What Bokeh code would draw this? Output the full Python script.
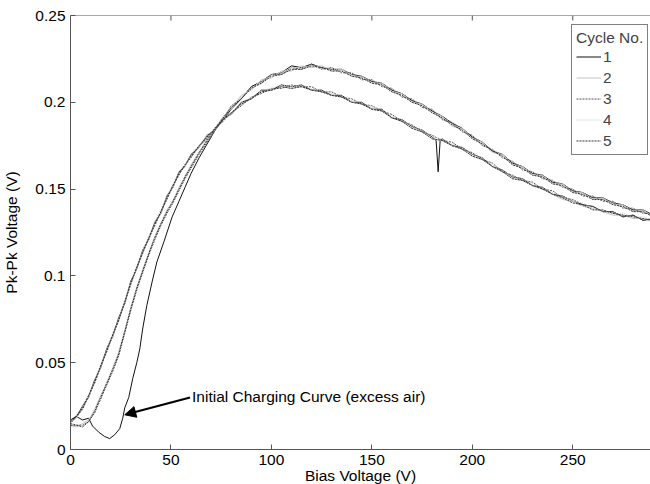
from bokeh.plotting import figure
from bokeh.models import Range1d, FixedTicker, Label, Arrow, NormalHead, Span, Title
from bokeh.embed import file_html
from bokeh.resources import INLINE

FONT = "Liberation Sans"

# ---------------- data ----------------
X_TICKS = [0, 50, 100, 150, 200, 250]
Y_TICKS = [0, 0.05, 0.1, 0.15, 0.2, 0.25]
Y_TICK_LABELS = ["0", "0.05", "0.1", "0.15", "0.2", "0.25"]
X_MAX = 288.7
Y_MAX = 0.25

GRID_UP = [0, 3, 6, 9, 12, 15, 18, 21, 24, 27, 30, 33, 36, 39, 42, 45, 48, 51, 54, 57,
           60, 64, 68, 72, 76, 80, 85, 90, 95, 100, 105, 110, 115, 120, 125, 130, 135,
           140, 145, 150, 155, 160, 165, 170, 175, 180, 185, 190, 195, 200, 205, 210,
           215, 220, 225, 230, 235, 240, 245, 250, 255, 260, 265, 270, 275, 280, 285, 290]
GRID_DOWN = GRID_UP[::-1]

C1_UP_X = [0, 3, 6, 9, 11, 14, 17, 19.5, 22, 24.5,
           26, 27, 29, 31, 33, 34.5, 36, 38, 40.7, 43,
           46.6, 50.6, 54, 57, 60, 64, 68, 72, 76, 80,
           85, 90, 95, 100, 105, 110, 115, 120, 125, 130,
           135, 140, 145, 150, 155, 160, 165, 170, 175, 180,
           185, 190, 195, 200, 205, 210, 215, 220, 225, 230,
           235, 240, 245, 250, 255, 260, 265, 270, 275, 280,
           285, 290]
C1_UP_Y = [0.017, 0.019, 0.017, 0.018, 0.0135, 0.010, 0.0075, 0.0063, 0.0085, 0.012,
           0.018, 0.024, 0.030, 0.041, 0.050, 0.058, 0.070, 0.083, 0.097, 0.108,
           0.120, 0.134, 0.143, 0.151, 0.159, 0.168, 0.176, 0.184, 0.190, 0.196,
           0.202, 0.209, 0.212, 0.216, 0.217, 0.221, 0.220, 0.222, 0.220, 0.219,
           0.219, 0.216, 0.215, 0.212, 0.211, 0.207, 0.205, 0.201, 0.199, 0.195,
           0.192, 0.188, 0.185, 0.180, 0.177, 0.172, 0.170, 0.165, 0.163, 0.159,
           0.158, 0.154, 0.153, 0.149, 0.148, 0.145, 0.145, 0.142, 0.141, 0.138,
           0.138, 0.135]
C1_DOWN_X = [290, 285, 280, 275, 270, 265, 260, 255, 250, 245,
             240, 235, 230, 225, 220, 215, 210, 205, 200, 195,
             190, 185,
             184, 183, 182,
             180, 175, 170, 165, 160, 155, 150, 145, 140, 135,
             130, 125, 120, 115, 110, 105, 100, 95, 90, 85,
             80,
             76, 72, 68, 64,
             60, 57, 54, 51, 48, 45, 42, 39, 36, 33,
             30, 27, 24, 21, 18, 15, 12, 9, 6, 3,
             0]
C1_DOWN_Y = [0.133, 0.132, 0.135, 0.134, 0.137, 0.137, 0.140, 0.141, 0.143, 0.146,
             0.147, 0.151, 0.152, 0.156, 0.157, 0.161, 0.163, 0.168, 0.170, 0.174,
             0.175, 0.179,
             0.178, 0.160, 0.178,
             0.180, 0.184, 0.186, 0.190, 0.191, 0.196, 0.196, 0.200, 0.200, 0.204,
             0.204, 0.207, 0.207, 0.210, 0.209, 0.210, 0.207, 0.207, 0.202, 0.200,
             0.193,
             0.191, 0.184, 0.181, 0.174,
             0.170, 0.163, 0.160, 0.151, 0.146, 0.136, 0.131, 0.121, 0.115, 0.104,
             0.097, 0.084, 0.076, 0.065, 0.058, 0.047, 0.040, 0.030, 0.025, 0.019,
             0.017]

C2_UP = [0.014, 0.013, 0.015, 0.017, 0.023, 0.031, 0.038, 0.047, 0.056, 0.068,
         0.082, 0.093, 0.104, 0.113, 0.123, 0.130, 0.138, 0.143, 0.151, 0.157,
         0.164, 0.171, 0.179, 0.185, 0.192, 0.196, 0.204, 0.207, 0.213, 0.214,
         0.218, 0.218, 0.221, 0.220, 0.221, 0.218, 0.219, 0.215, 0.215, 0.211,
         0.211, 0.206, 0.205, 0.200, 0.199, 0.194, 0.192, 0.186, 0.185, 0.179,
         0.177, 0.171, 0.170, 0.164, 0.163, 0.158, 0.158, 0.153, 0.153, 0.148,
         0.148, 0.144, 0.145, 0.141, 0.141, 0.137, 0.138, 0.134]
C2_DOWN = [0.131, 0.133, 0.133, 0.135, 0.135, 0.137, 0.139, 0.140, 0.143, 0.144,
           0.147, 0.150, 0.152, 0.155, 0.156, 0.160, 0.163, 0.167, 0.169, 0.173,
           0.175, 0.178, 0.179, 0.183, 0.185, 0.189, 0.191, 0.195, 0.196, 0.199,
           0.200, 0.203, 0.204, 0.206, 0.207, 0.209, 0.208, 0.209, 0.207, 0.206,
           0.202, 0.199, 0.193, 0.190, 0.184, 0.180, 0.174, 0.169, 0.163, 0.159,
           0.151, 0.145, 0.136, 0.130, 0.121, 0.114, 0.104, 0.096, 0.084, 0.075,
           0.065, 0.057, 0.047, 0.039, 0.030, 0.024, 0.018, 0.016]

C3_UP = [0.015, 0.014, 0.014, 0.016, 0.021, 0.029, 0.037, 0.045, 0.054, 0.067,
         0.080, 0.092, 0.102, 0.112, 0.121, 0.129, 0.136, 0.142, 0.149, 0.156,
         0.162, 0.170, 0.177, 0.184, 0.190, 0.198, 0.202, 0.209, 0.211, 0.216,
         0.216, 0.220, 0.219, 0.222, 0.219, 0.220, 0.217, 0.217, 0.213, 0.213,
         0.209, 0.208, 0.203, 0.202, 0.197, 0.196, 0.190, 0.188, 0.183, 0.181,
         0.175, 0.173, 0.168, 0.166, 0.161, 0.160, 0.156, 0.155, 0.151, 0.150,
         0.146, 0.146, 0.143, 0.143, 0.139, 0.139, 0.136, 0.136]
C3_DOWN = [0.133, 0.132, 0.135, 0.134, 0.137, 0.137, 0.140, 0.141, 0.144, 0.145,
           0.149, 0.150, 0.154, 0.155, 0.158, 0.160, 0.165, 0.167, 0.171, 0.173,
           0.177, 0.178, 0.181, 0.183, 0.187, 0.189, 0.193, 0.195, 0.198, 0.199,
           0.202, 0.203, 0.206, 0.206, 0.209, 0.209, 0.210, 0.208, 0.208, 0.205,
           0.203, 0.198, 0.194, 0.189, 0.185, 0.179, 0.175, 0.168, 0.164, 0.158,
           0.152, 0.144, 0.137, 0.129, 0.122, 0.113, 0.105, 0.095, 0.085, 0.074,
           0.066, 0.056, 0.048, 0.038, 0.031, 0.023, 0.019, 0.015]

C4_UP = [0.013, 0.013, 0.014, 0.017, 0.022, 0.030, 0.039, 0.046, 0.056, 0.069,
         0.081, 0.094, 0.103, 0.114, 0.122, 0.131, 0.137, 0.144, 0.150, 0.158,
         0.163, 0.172, 0.178, 0.186, 0.191, 0.198, 0.203, 0.208, 0.212, 0.216,
         0.217, 0.220, 0.220, 0.221, 0.221, 0.219, 0.219, 0.216, 0.214, 0.213,
         0.210, 0.208, 0.204, 0.202, 0.198, 0.196, 0.191, 0.189, 0.184, 0.181,
         0.176, 0.173, 0.169, 0.166, 0.162, 0.160, 0.157, 0.155, 0.152, 0.150,
         0.147, 0.146, 0.144, 0.142, 0.140, 0.139, 0.137, 0.135]
C4_DOWN = [0.132, 0.134, 0.134, 0.136, 0.136, 0.138, 0.139, 0.142, 0.143, 0.146,
           0.148, 0.151, 0.153, 0.156, 0.157, 0.161, 0.164, 0.168, 0.170, 0.174,
           0.176, 0.179, 0.180, 0.184, 0.186, 0.190, 0.192, 0.196, 0.197, 0.200,
           0.201, 0.204, 0.205, 0.207, 0.208, 0.210, 0.209, 0.210, 0.208, 0.207,
           0.203, 0.200, 0.194, 0.191, 0.185, 0.181, 0.175, 0.170, 0.164, 0.160,
           0.153, 0.146, 0.138, 0.131, 0.123, 0.115, 0.106, 0.097, 0.086, 0.076,
           0.067, 0.058, 0.049, 0.040, 0.032, 0.025, 0.020, 0.017]

C5_UP = [0.014, 0.014, 0.013, 0.016, 0.022, 0.030, 0.038, 0.046, 0.055, 0.068,
         0.081, 0.093, 0.103, 0.113, 0.122, 0.130, 0.137, 0.143, 0.150, 0.157,
         0.163, 0.171, 0.178, 0.185, 0.191, 0.197, 0.202, 0.208, 0.211, 0.215,
         0.216, 0.219, 0.219, 0.221, 0.220, 0.218, 0.218, 0.215, 0.214, 0.211,
         0.210, 0.206, 0.204, 0.200, 0.198, 0.194, 0.191, 0.187, 0.184, 0.179,
         0.176, 0.172, 0.169, 0.164, 0.162, 0.158, 0.157, 0.153, 0.152, 0.148,
         0.147, 0.144, 0.144, 0.141, 0.140, 0.137, 0.137, 0.134]
C5_DOWN = [0.132, 0.133, 0.134, 0.135, 0.136, 0.138, 0.138, 0.141, 0.142, 0.145,
           0.147, 0.150, 0.152, 0.155, 0.156, 0.160, 0.163, 0.167, 0.169, 0.173,
           0.175, 0.178, 0.179, 0.183, 0.185, 0.189, 0.191, 0.195, 0.196, 0.199,
           0.200, 0.203, 0.204, 0.206, 0.207, 0.209, 0.208, 0.209, 0.207, 0.206,
           0.202, 0.199, 0.194, 0.190, 0.185, 0.180, 0.175, 0.169, 0.164, 0.159,
           0.152, 0.145, 0.137, 0.130, 0.122, 0.114, 0.105, 0.096, 0.085, 0.075,
           0.066, 0.057, 0.048, 0.039, 0.031, 0.024, 0.019, 0.016]

CYCLE_LABELS = ["1", "2", "3", "4", "5"]
ANNOTATION = "Initial Charging Curve (excess air)"
X_LABEL = "Bias Voltage (V)"
Y_LABEL = "Pk-Pk Voltage (V)"
ARROW_FROM = (59.5, 0.0300)
ARROW_TO = (27.0, 0.0200)
LABEL_POS = (60.5, 0.0305)

# ---------------- figure ----------------
p = figure(width=650, height=484, output_backend="svg", toolbar_location=None,
           x_range=Range1d(0, X_MAX), y_range=Range1d(0, Y_MAX),
           min_border_left=68, min_border_right=0, min_border_top=15, min_border_bottom=35,
           y_axis_label=Y_LABEL)
p.styles = {"position": "absolute", "left": "0px", "top": "0px"}
p.outline_line_color = None
p.grid.visible = False
p.background_fill_color = "white"
p.border_fill_color = "white"

AX_COLOR = "#555555"
TXT = "15.5px"

def style_axis(ax):
    ax.axis_line_color = AX_COLOR
    ax.major_tick_line_color = AX_COLOR
    ax.major_tick_in = 5
    ax.major_tick_out = 0
    ax.minor_tick_line_color = None
    ax.major_label_text_font = FONT
    ax.major_label_text_color = "black"
    ax.major_label_text_font_size = TXT
    ax.axis_label_text_font = FONT
    ax.axis_label_text_font_size = TXT
    ax.axis_label_text_font_style = "normal"
    ax.axis_label_text_color = "black"

xa = p.xaxis[0]
xa.ticker = FixedTicker(ticks=X_TICKS)
style_axis(xa)
xa.major_label_standoff = 5

# x-axis title as a title panel below the axis, pulled up with a negative standoff
p.add_layout(Title(text=X_LABEL, align="center", text_font=FONT, text_font_size=TXT,
                   text_font_style="normal", text_color="black", standoff=-5), "below")

ya = p.yaxis[0]
ya.ticker = FixedTicker(ticks=Y_TICKS)
ya.major_label_overrides = {t: s for t, s in zip(Y_TICKS, Y_TICK_LABELS)}
style_axis(ya)
ya.major_label_standoff = 5
ya.axis_label_standoff = 12

# top border line with inward ticks (box style)
p.add_layout(Span(location=Y_MAX, dimension="width", line_color=AX_COLOR, line_width=1))
TICK_LEN = 5 * Y_MAX / 434
p.segment(x0=X_TICKS, y0=[Y_MAX] * len(X_TICKS), x1=X_TICKS,
          y1=[Y_MAX - TICK_LEN] * len(X_TICKS), line_color=AX_COLOR, line_width=1)

styles = [
    dict(color="#111111", line_dash="solid"),
    dict(color="#c4c4c4", line_dash="solid"),
    dict(color="#555555", line_dash="2 1"),
    dict(color="#c8c8c8", line_dash="1 1"),
    dict(color="#333333", line_dash="2 1"),
]
cycles = [
    (C1_UP_X + C1_DOWN_X, C1_UP_Y + C1_DOWN_Y),
    (GRID_UP + GRID_DOWN, C2_UP + C2_DOWN),
    (GRID_UP + GRID_DOWN, C3_UP + C3_DOWN),
    (GRID_UP + GRID_DOWN, C4_UP + C4_DOWN),
    (GRID_UP + GRID_DOWN, C5_UP + C5_DOWN),
]
for (xs, ys), st, lab in zip(cycles, styles, CYCLE_LABELS):
    p.line(xs, ys, line_width=1, line_color=st["color"], line_dash=st["line_dash"],
           legend_label=lab)

lg = p.legend[0]
lg.title = "Cycle No."
lg.title_text_font = FONT
lg.title_text_font_size = TXT
lg.title_text_font_style = "normal"
lg.title_standoff = 0
lg.label_text_font = FONT
lg.label_text_font_size = TXT
lg.glyph_width = 25
lg.glyph_height = 19
lg.label_height = 19
lg.label_standoff = 2
lg.spacing = 2
lg.padding = 4
lg.margin = 0
lg.border_line_color = "black"
lg.border_line_width = 1
lg.background_fill_alpha = 1
lg.location = (501, 294)

p.add_layout(Arrow(end=NormalHead(size=11, fill_color="black", line_color="black"),
                   x_start=ARROW_FROM[0], y_start=ARROW_FROM[1],
                   x_end=ARROW_TO[0], y_end=ARROW_TO[1],
                   line_width=2, line_color="black"))
p.add_layout(Label(x=LABEL_POS[0], y=LABEL_POS[1], text=ANNOTATION,
                   text_font=FONT, text_font_size=TXT, text_baseline="middle",
                   text_align="left", text_color="black"))

open("out.html", "w").write(file_html(p, INLINE))
